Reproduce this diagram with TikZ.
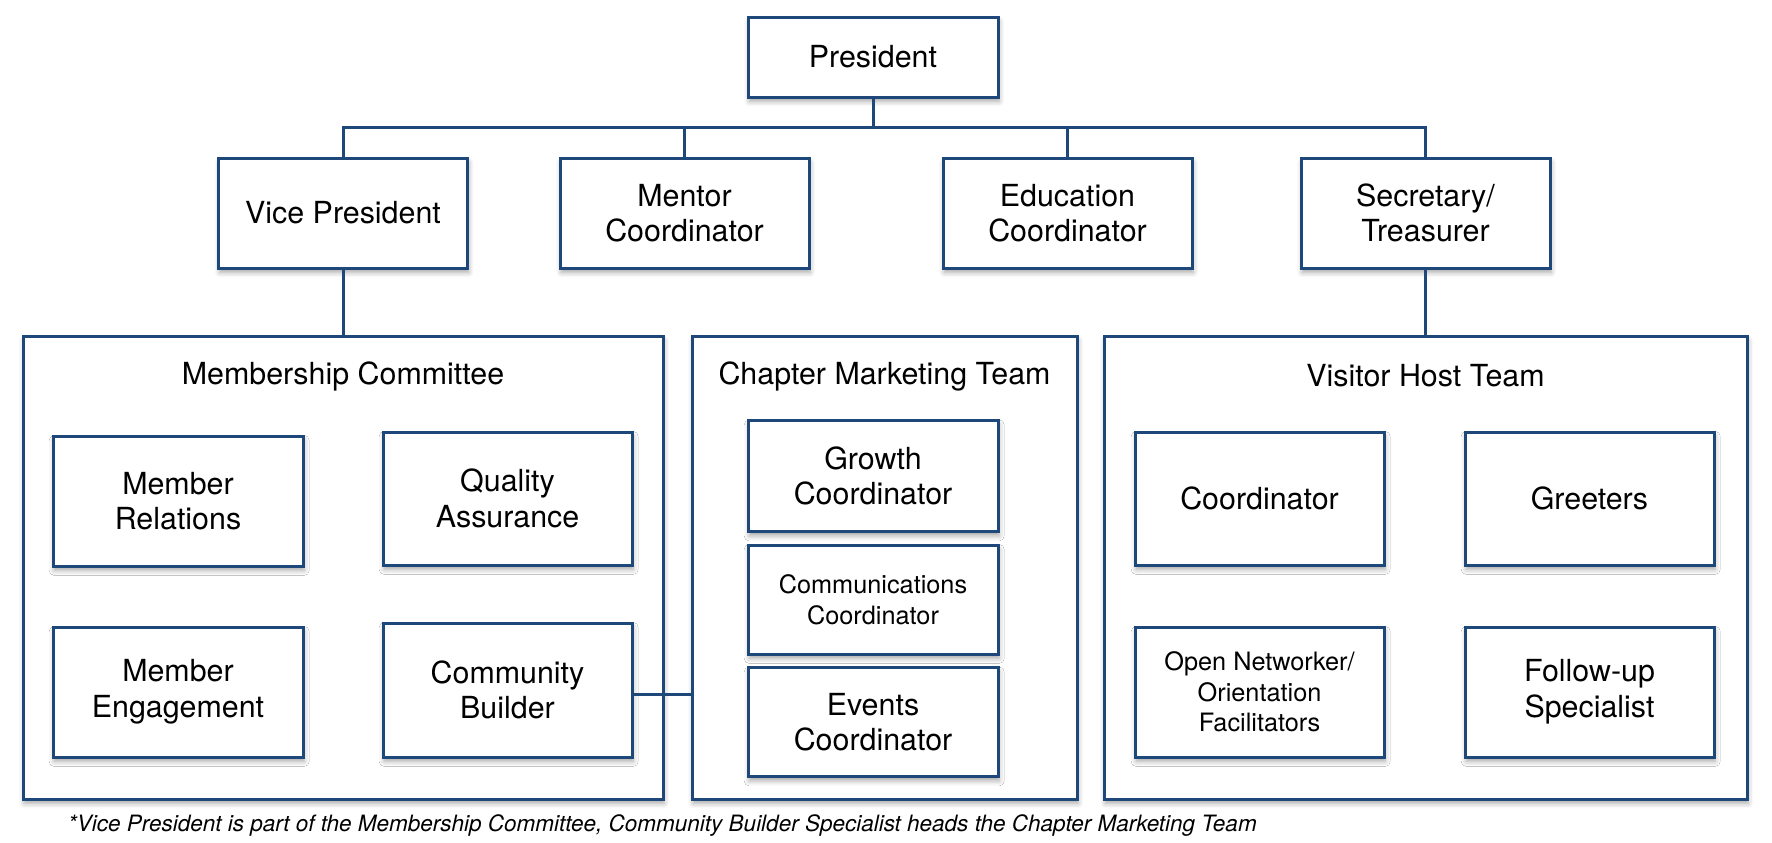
\documentclass[tikz,border=0pt]{standalone}
\usepackage{fontspec}
\setmainfont{TeX Gyre Heros}
\usetikzlibrary{shadows.blur}
\definecolor{boxblue}{RGB}{31,72,122}
\tikzset{
  shad/.style={blur shadow={shadow xshift=0.6pt, shadow yshift=-2.2pt, shadow blur radius=2.5pt, shadow opacity=35}},
  box/.style={draw=boxblue, line width=1.5pt, fill=white, shad, align=center, inner sep=2pt,
    font=\fontsize{15.2}{17.8}\selectfont},
  smallbox/.style={box, font=\fontsize{12.65}{15.3}\selectfont},
  group/.style={draw=boxblue, line width=1.5pt, fill=white, shad},
  title/.style={font=\fontsize{15.2}{17.8}\selectfont},
  conn/.style={draw=boxblue, line width=1.5pt}
}
\begin{document}
\begin{tikzpicture}[x=0.5pt,y=-0.5pt]
\useasboundingbox (0,0) rectangle (1772,842);
% groups
\node[group, minimum width=320pt, minimum height=231.5pt] (MC) at (343,567.5) {};
\node[group, minimum width=192.5pt, minimum height=231.5pt] (CMT) at (884.5,567.5) {};
\node[group, minimum width=321.5pt, minimum height=231.5pt] (VHT) at (1425.5,567.5) {};
\node[title] (MCt) at (343,376) {Membership Committee};
\node[title] (CMTt) at (884.5,376) {Chapter Marketing Team};
\node[title] (VHTt) at (1425.5,376) {Visitor Host Team};
% top
\coordinate (bus) at (0,127);
\node[box, minimum width=125pt, minimum height=40pt] (P) at (873,57) {President};
\node[box, minimum width=124.5pt, minimum height=55pt] (VP) at (343,213) {Vice President};
\node[box, minimum width=124.5pt, minimum height=55pt] (MCo) at (684.5,213) {Mentor\\Coordinator};
\node[box, minimum width=124.5pt, minimum height=55pt] (EC) at (1067.5,213) {Education\\Coordinator};
\node[box, minimum width=124.5pt, minimum height=55pt] (ST) at (1425.5,213) {Secretary/\\Treasurer};
\draw[conn] (P.south) -- (P.south |- bus);
\draw[conn] (VP.north) -- (VP.north |- bus) -- (ST.north |- bus) -- (ST.north);
\draw[conn] (MCo.north) -- (MCo.north |- bus);
\draw[conn] (EC.north) -- (EC.north |- bus);
\draw[conn] (VP.south) -- (VP.south |- MC.north);
\draw[conn] (ST.south) -- (ST.south |- VHT.north);
% membership
\node[box, minimum width=125pt, minimum height=65pt] (MR) at (178,501) {Member\\Relations};
\node[box, minimum width=124.5pt, minimum height=66.5pt] (QA) at (507.5,498.5) {Quality\\Assurance};
\node[box, minimum width=125pt, minimum height=65pt] (ME) at (178,692) {Member\\Engagement};
\node[box, minimum width=124.5pt, minimum height=67pt] (CB) at (507.5,690) {Community\\Builder};
% chapter marketing
\node[box, minimum width=125pt, minimum height=55.5pt] (GC) at (873,476) {Growth\\Coordinator};
\node[smallbox, minimum width=125pt, minimum height=54.5pt] (CC) at (873,599.5) {Communications\\Coordinator};
\node[box, minimum width=125pt, minimum height=54.5pt] (EvC) at (873,722) {Events\\Coordinator};
% visitor host
\node[box, minimum width=124.5pt, minimum height=66.5pt] (VC) at (1259.5,498.5) {Coordinator};
\node[box, minimum width=124.5pt, minimum height=66.5pt] (GR) at (1589.5,498.5) {Greeters};
\node[smallbox, minimum width=124.5pt, minimum height=65pt] (ON) at (1259.5,692) {Open Networker/\\Orientation\\Facilitators};
\node[box, minimum width=124.5pt, minimum height=65pt] (FU) at (1589.5,692) {Follow-up\\Specialist};
\draw[conn] (CB.east) ++(0,4) coordinate (cbe) -- (cbe -| CMT.west);
% footnote
\node[anchor=west, font=\fontsize{11.25}{13}\selectfont\itshape] (fn) at (61,826) {*Vice President is part of the Membership Committee, Community Builder Specialist heads the Chapter Marketing Team};
\end{tikzpicture}
\end{document}
